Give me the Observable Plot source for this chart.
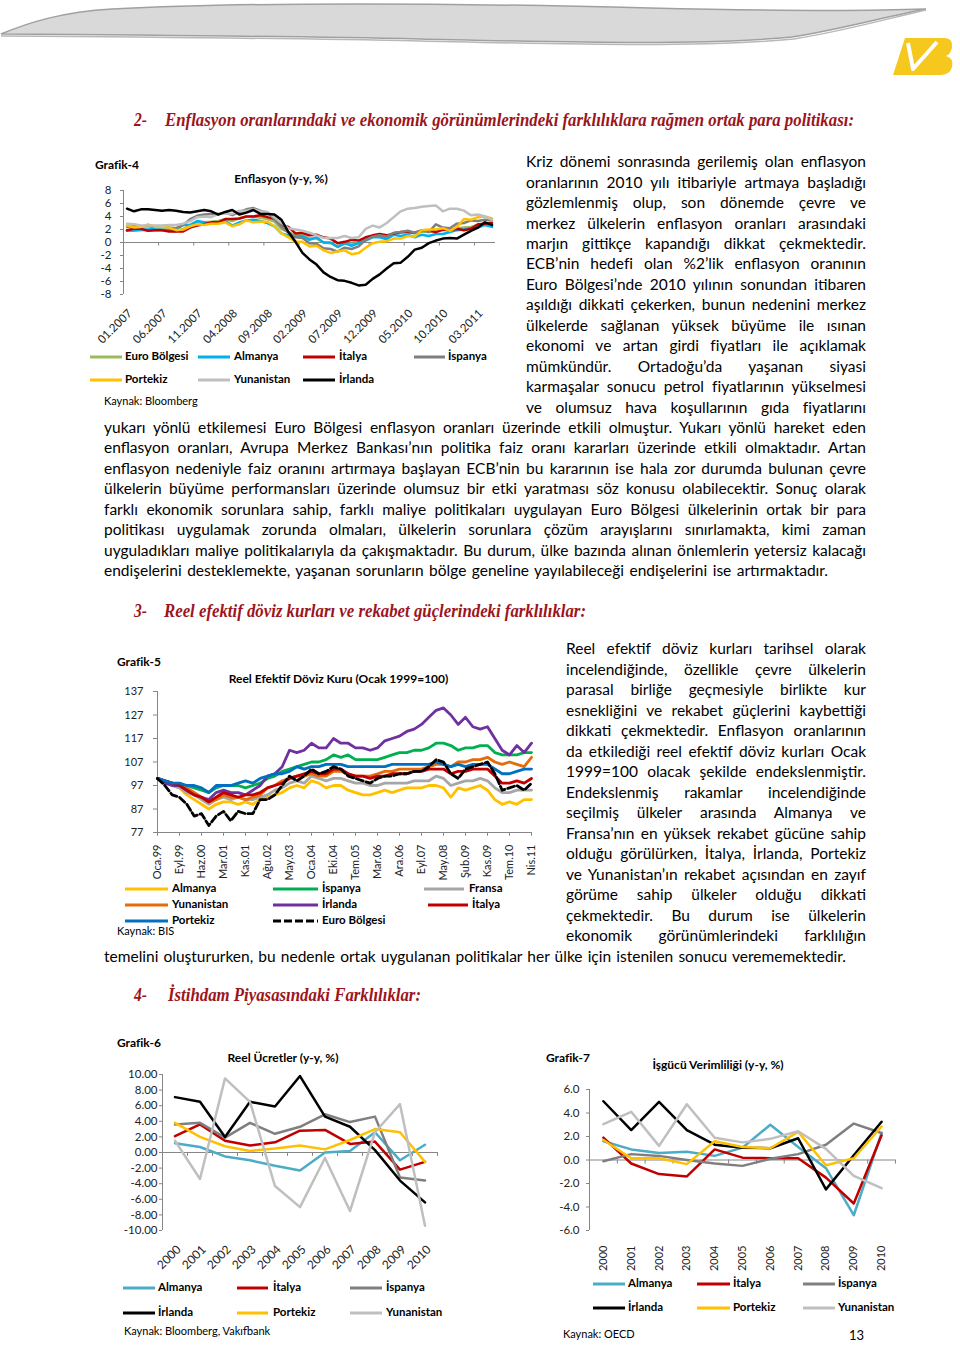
<!DOCTYPE html>
<html lang="tr">
<head>
<meta charset="utf-8">
<script src="https://cdn.jsdelivr.net/npm/d3@7"></script>
<script src="https://cdn.jsdelivr.net/npm/@observablehq/plot@0.6"></script>
<style>
html,body{margin:0;padding:0;background:#fff;}
#page{position:relative;width:960px;height:1347px;overflow:hidden;background:#fff;font-family:Lato,"Open Sans",sans-serif;color:#000;}
.t{position:absolute;white-space:nowrap;}
.chart{position:absolute;}
.chart svg{overflow:visible;}
</style>
</head>
<body>
<div id="page">
<svg width="960" height="90" style="position:absolute;left:0;top:0">
  <path d="M1,34 C30,22 62,12 112,9 C250,2 450,3 650,8 C780,11 870,11 926,9 C884,17 842,29 792,37 C700,46 560,42 420,39 C280,36 140,35 1,34 Z" fill="#d9d9d9" stroke="#a0a0a0" stroke-width="1.5"/>
  <path d="M1,36 C140,37 280,38 420,41 C560,44 700,48 794,39 C844,31 886,19 926,10" fill="none" stroke="#b8b8b8" stroke-width="1.5"/>
  <path d="M905,38 L944,38 Q953,38 952,47 Q951,54 946,56 Q954,58 952,67 Q950,75 940,75 L893,75 Z" fill="#f6c71d"/>
  <polyline points="908,43 913,69 937,42" fill="none" stroke="#fff" stroke-width="4" stroke-linejoin="round"/>
</svg>
</div>
<script>
// ---------------- DATA ----------------
// Grafik-4: Enflasyon (y-y, %), aylık 01.2007 - 05.2011
const g4_xlabels = ["01.2007","06.2007","11.2007","04.2008","09.2008","02.2009","07.2009","12.2009","05.2010","10.2010","03.2011"];
const g4_yticks = [-8,-6,-4,-2,0,2,4,6,8];
const g4_euro = [1.8,1.8,1.9,1.9,1.9,1.9,1.8,1.7,2.1,2.6,3.1,3.1, 3.2,3.3,3.6,3.3,3.7,4.0,4.0,3.8,3.6,3.2,2.1,1.6, 1.1,1.2,0.6,0.6,0.0,-0.1,-0.6,-0.2,-0.3,-0.1,0.5,0.9, 1.0,0.8,1.4,1.5,1.6,1.4,1.7,1.6,1.9,1.9,1.9,2.2, 2.3,2.4,2.7,2.8,2.7];
const g4_almanya = [1.8,1.9,2.0,2.0,2.1,2.0,2.0,2.0,2.7,2.7,3.3,3.1, 2.9,3.0,3.3,2.6,3.1,3.4,3.5,3.3,3.0,2.5,1.4,1.1, 0.9,1.0,0.4,0.8,0.0,0.0,-0.7,-0.1,-0.5,-0.1,0.3,0.8, 0.8,0.5,1.2,1.0,1.2,0.8,1.2,1.0,1.3,1.3,1.6,1.9, 2.0,2.2,2.3,2.7,2.4];
const g4_italya = [1.9,2.1,2.1,1.8,1.9,1.9,1.7,1.7,1.7,2.3,2.6,2.8, 3.1,3.1,3.6,3.6,3.7,4.0,4.0,4.2,3.9,3.6,2.7,2.4, 1.4,1.5,1.1,1.2,0.8,0.6,-0.1,0.1,0.4,0.3,0.8,1.1, 1.3,1.1,1.4,1.6,1.6,1.5,1.8,1.8,1.6,2.0,1.9,2.1, 1.9,2.1,2.8,2.9,3.0];
const g4_ispanya = [2.4,2.5,2.5,2.5,2.4,2.5,2.3,2.2,2.7,3.6,4.1,4.3, 4.4,4.4,4.6,4.2,4.7,5.1,5.3,4.9,4.6,3.6,2.4,1.5, 0.8,0.7,-0.1,-0.2,-0.9,-1.0,-1.4,-0.8,-1.0,-0.6,0.4,0.9, 1.1,0.9,1.5,1.6,1.8,1.5,1.9,1.6,2.8,2.3,2.2,2.9, 3.0,3.4,3.3,3.5,3.4];
const g4_portekiz = [2.6,2.3,2.4,2.8,2.4,2.4,2.3,1.9,2.0,2.5,2.8,2.7, 2.9,2.9,3.1,2.5,2.8,3.4,3.1,3.2,3.2,2.5,1.4,0.8, 0.1,0.1,-0.6,-0.5,-1.2,-1.6,-1.4,-1.2,-1.8,-1.6,-0.8,-0.1, 0.1,0.2,0.6,0.6,1.0,0.9,1.9,2.0,2.0,2.2,1.8,2.4, 3.6,3.5,3.9,4.0,3.7];
const g4_yunanistan = [2.9,2.8,2.6,2.6,2.6,2.6,2.7,2.7,2.9,3.3,3.9,4.0, 3.9,4.4,4.5,4.4,4.9,4.9,5.1,4.8,4.7,3.9,3.0,2.2, 2.0,1.8,1.5,1.1,0.7,0.7,0.7,1.0,0.7,0.8,2.1,2.6, 2.3,3.0,3.9,4.8,5.2,5.3,5.5,5.6,5.7,4.8,5.2,5.2, 4.9,4.2,4.3,4.0,3.5];
const g4_irlanda = [5.2,4.8,5.1,5.1,5.0,4.9,5.0,4.9,4.7,4.6,4.8,5.0, 4.8,4.3,4.7,5.0,4.3,4.6,5.0,4.4,4.4,4.3,3.5,1.6, 0.1,-1.6,-2.6,-3.4,-4.6,-5.3,-5.8,-5.9,-6.2,-6.6,-6.5,-5.6, -4.9,-4.0,-3.2,-3.1,-2.2,-1.1,-0.8,-0.1,0.3,0.6,0.7,0.6, 1.2,1.8,2.3,3.1,2.7];

// Grafik-5: Reel Efektif Döviz Kuru (Ocak 1999=100), Oca.99 - Nis.11 (3 nokta / etiket aralığı)
const g5_xlabels = ["Oca.99","Eyl.99","Haz.00","Mar.01","Kas.01","Ağu.02","May.03","Oca.04","Eki.04","Tem.05","Mar.06","Ara.06","Eyl.07","May.08","Şub.09","Kas.09","Tem.10","Nis.11"];
const g5_yticks = [77,87,97,107,117,127,137];
const g5_almanya = [100,99,97,96,93,91,89,87,89,90,90,89,90,89,91,92,93,94,96,97,96,99,98,96,97,97,95,94,93,93,94,95,94,95,96,96,96,97,97,96,92,96,95,96,97,95,91,89,90,89,91,91];
const g5_ispanya = [100,99,98,97,97,96,95,94,96,97,97,97,96,97,98,100,101,103,104,105,106,107,107,108,110,109,110,108,108,108,108,109,110,111,111,112,112,113,115,115,114,112,113,113,114,114,111,110,110,110,111,111];
const g5_fransa = [100,99,97,96,94,93,91,89,91,92,91,92,91,91,92,93,95,96,98,99,98,101,100,99,100,100,99,98,98,97,97,98,98,98,98,99,99,99,101,100,97,98,99,99,100,99,96,94,94,95,95,95];
const g5_yunanistan = [100,99,98,97,96,94,92,90,91,93,92,92,91,92,93,96,97,99,100,101,101,102,101,101,103,103,102,101,101,101,102,103,103,104,104,104,104,105,106,106,105,107,107,108,108,109,107,106,107,106,105,109];
const g5_irlanda = [100,98,97,97,95,93,92,91,94,95,94,94,93,95,97,101,102,105,112,111,112,115,113,113,117,115,115,113,113,112,113,116,117,118,120,121,123,126,129,130,127,123,126,122,121,122,117,112,110,114,111,115];
const g5_italya = [100,99,98,97,95,93,92,90,92,94,93,92,93,93,94,96,97,98,100,101,102,103,102,102,104,104,102,101,101,100,101,101,102,102,102,103,103,104,104,104,102,103,103,104,104,104,101,98,98,99,98,100];
const g5_portekiz = [100,99,98,98,97,97,96,94,97,97,97,98,99,98,100,101,102,102,103,105,104,105,105,106,106,106,105,105,105,105,105,105,106,106,106,106,106,106,107,106,105,106,105,106,106,106,104,102,102,103,104,104];
const g5_euro = [100,97,93,92,89,84,85,80,84,86,82,86,85,85,91,91,93,97,101,99,101,104,102,103,105,104,101,100,99,98,100,101,101,102,102,103,103,105,108,107,102,100,104,105,106,107,102,95,96,97,95,98];

// Grafik-6: Reel Ücretler (y-y, %), 2000-2010
const g6_years = [2000,2001,2002,2003,2004,2005,2006,2007,2008,2009,2010];
const g6_yticks = [-10,-8,-6,-4,-2,0,2,4,6,8,10];
const g6_almanya = [1.2,0.7,-0.5,-1.0,-1.7,-2.3,0.0,0.2,2.6,-1.0,1.0];
const g6_italya = [2.1,3.6,1.5,0.9,1.3,2.8,2.9,1.1,1.4,-2.2,-1.2];
const g6_ispanya = [3.6,3.8,1.9,3.8,2.4,3.3,4.9,3.9,4.6,-3.2,-3.6];
const g6_irlanda = [7.1,6.5,2.0,6.5,5.9,9.8,4.6,3.3,0.3,-3.6,-6.4];
const g6_portekiz = [3.8,2.0,0.8,0.2,0.5,0.9,0.4,1.6,3.0,2.6,-1.2];
const g6_yunanistan = [1.5,-3.4,9.5,6.5,-4.3,-7.0,-0.7,-7.5,2.6,6.2,-9.4];

// Grafik-7: İşgücü Verimliliği (y-y, %), 2000-2010
const g7_years = [2000,2001,2002,2003,2004,2005,2006,2007,2008,2009,2010];
const g7_yticks = [-6,-4,-2,0,2,4,6];
const g7_almanya = [1.6,0.9,0.6,0.7,0.35,1.05,3.0,1.1,-0.7,-4.7,2.3];
const g7_italya = [1.9,-0.3,-1.2,-1.4,0.9,0.2,0.15,0.15,-1.5,-3.7,2.1];
const g7_ispanya = [-0.1,0.5,0.35,0.0,-0.3,-0.5,0.1,0.5,1.3,3.1,2.3];
const g7_irlanda = [5.0,2.55,4.95,2.55,1.3,1.05,1.0,1.85,-2.5,0.4,3.25];
const g7_portekiz = [1.7,0.15,0.15,-0.35,1.6,1.1,1.0,2.4,-0.45,0.15,2.85];
const g7_yunanistan = [3.05,4.1,1.2,4.75,1.9,1.5,1.8,2.45,0.95,-1.35,-2.4];

// ---------------- TEXT ----------------
const para1Right = [
"Kriz dönemi sonrasında gerilemiş olan enflasyon",
"oranlarının 2010 yılı itibariyle artmaya başladığı",
"gözlemlenmiş olup, son dönemde çevre ve",
"merkez ülkelerin enflasyon oranları arasındaki",
"marjın gittikçe kapandığı dikkat çekmektedir.",
"ECB’nin hedefi olan %2’lik enflasyon oranının",
"Euro Bölgesi’nde 2010 yılının sonundan itibaren",
"aşıldığı dikkati çekerken, bunun nedenini merkez",
"ülkelerde sağlanan yüksek büyüme ile ısınan",
"ekonomi ve artan girdi fiyatları ile açıklamak",
"mümkündür. Ortadoğu’da yaşanan siyasi",
"karmaşalar sonucu petrol fiyatlarının yükselmesi",
"ve olumsuz hava koşullarının gıda fiyatlarını"];
const para1Full = [
"yukarı yönlü etkilemesi Euro Bölgesi enflasyon oranları üzerinde etkili olmuştur. Yukarı yönlü hareket eden",
"enflasyon oranları, Avrupa Merkez Bankası’nın politika faiz oranı kararları üzerinde etkili olmaktadır. Artan",
"enflasyon nedeniyle faiz oranını artırmaya başlayan ECB’nin bu kararının ise hala zor durumda bulunan çevre",
"ülkelerin büyüme performansları üzerinde olumsuz bir etki yaratması söz konusu olabilecektir. Sonuç olarak",
"farklı ekonomik sorunlara sahip, farklı maliye politikaları uygulayan Euro Bölgesi ülkelerinin ortak bir para",
"politikası uygulamak zorunda olmaları, ülkelerin sorunlara çözüm arayışlarını sınırlamakta, kimi zaman",
"uyguladıkları maliye politikalarıyla da çakışmaktadır. Bu durum, ülke bazında alınan önlemlerin yetersiz kalacağı",
"endişelerini desteklemekte, yaşanan sorunların bölge geneline yayılabileceği endişelerini ise artırmaktadır."];
const para2Right = [
"Reel efektif döviz kurları tarihsel olarak",
"incelendiğinde, özellikle çevre ülkelerin",
"parasal birliğe geçmesiyle birlikte kur",
"esnekliğini ve rekabet güçlerini kaybettiği",
"dikkati çekmektedir. Enflasyon oranlarının",
"da etkilediği reel efektif döviz kurları Ocak",
"1999=100 olacak şekilde endekslenmiştir.",
"Endekslenmiş rakamlar incelendiğinde",
"seçilmiş ülkeler arasında Almanya ve",
"Fransa’nın en yüksek rekabet gücüne sahip",
"olduğu görülürken, İtalya, İrlanda, Portekiz",
"ve Yunanistan’ın rekabet açısından en zayıf",
"görüme sahip ülkeler olduğu dikkati",
"çekmektedir. Bu durum ise ülkelerin",
"ekonomik görünümlerindeki farklılığın"];
const para2Last = "temelini oluştururken, bu nedenle ortak uygulanan politikalar her ülke için istenilen sonucu verememektedir.";

const page = document.getElementById("page");
function addText(str, x, y, o = {}) {
  const fs = o.size || 15.5, lh = o.lh || Math.round(fs * 1.35);
  const el = document.createElement("span");
  el.className = "t";
  el.textContent = str;
  el.style.fontSize = fs + "px";
  el.style.lineHeight = lh + "px";
  if (o.weight) el.style.fontWeight = o.weight;
  if (o.family) el.style.fontFamily = o.family;
  if (o.italic) el.style.fontStyle = "italic";
  if (o.color) el.style.color = o.color;
  const off = o.serif ? lh / 2 : lh / 2 + 0.087 * fs;
  el.style.top = (y - off) + "px";
  el.style.left = x + "px";
  page.appendChild(el);
  if (o.anchor === "middle") {
    const w = el.getBoundingClientRect().width;
    el.style.left = (x - w / 2) + "px";
  }
  return el;
}
function fit(el, target) {
  const w = el.getBoundingClientRect().width;
  const txt = el.textContent;
  const n = (txt.match(/ /g) || []).length;
  if (w <= target && n > 0) el.style.wordSpacing = ((target - w) / n) + "px";
  else if (w > target) el.style.letterSpacing = ((target - w) / txt.length) + "px";
}
function scaleTo(el, target) {
  const w = el.getBoundingClientRect().width;
  el.style.transformOrigin = "0 50%";
  el.style.transform = `scaleX(${target / w})`;
}

// body text
const LS = 20.45;
para1Right.forEach((s, i) => fit(addText(s, 526, 163 + i * LS), 340));
para1Full.forEach((s, i) => {
  const last = i === para1Full.length - 1;
  fit(addText(s, 104, 163 + (13 + i) * LS), last ? 724 : 762);
});
para2Right.forEach((s, i) => fit(addText(s, 566, 650 + i * 20.5), 300));
fit(addText(para2Last, 104, 650 + 15 * 20.5), 742);

// headings
const HC = "#9b1520";
function heading(num, text, y, x2, target) {
  const hopt = {size: 18, lh: 24, family: '"Liberation Serif","Times New Roman",serif', weight: 700, italic: true, color: HC, serif: true};
  scaleTo(addText(num, 134, y, hopt), 13);
  scaleTo(addText(text, x2, y, hopt), target);
}
heading("2-", "Enflasyon oranlarındaki ve ekonomik görünümlerindeki farklılıklara rağmen ortak para politikası:", 120, 165, 689);
heading("3-", "Reel efektif döviz kurları ve rekabet güçlerindeki farklılıklar:", 611, 164, 422);
heading("4-", "İstihdam Piyasasındaki Farklılıklar:", 995, 168, 253);

// chart labels
const B = {size: 12, weight: 700, lh: 16};
addText("Grafik-4", 95, 166, B);
addText("Enflasyon (y-y, %)", 281, 180, {...B, anchor: "middle"});
addText("Kaynak: Bloomberg", 104, 402, {size: 11, lh: 14});
addText("Grafik-5", 117, 663, B);
addText("Reel Efektif Döviz Kuru (Ocak 1999=100)", 338.5, 680, {...B, anchor: "middle"});
addText("Kaynak: BIS", 117, 932, {size: 11, lh: 14});
addText("Grafik-6", 117, 1044, B);
addText("Reel Ücretler (y-y, %)", 283, 1059, {...B, anchor: "middle"});
addText("Kaynak: Bloomberg, Vakıfbank", 124, 1332, {size: 11, lh: 14});
addText("Grafik-7", 546, 1059, B);
addText("İşgücü Verimliliği (y-y, %)", 718, 1066, {...B, anchor: "middle"});
addText("Kaynak: OECD", 563, 1335, {size: 11, lh: 14});
addText("13", 849, 1337, {size: 13, lh: 15});

// legends
function legendItem(label, color, x1, x2, tx, y, dash) {
  const ns = "http://www.w3.org/2000/svg";
  const s = document.createElementNS(ns, "svg");
  s.setAttribute("width", x2 - x1); s.setAttribute("height", 6);
  s.style.cssText = `position:absolute;left:${x1}px;top:${y - 3}px;`;
  const l = document.createElementNS(ns, "line");
  l.setAttribute("x1", 0); l.setAttribute("x2", x2 - x1); l.setAttribute("y1", 3); l.setAttribute("y2", 3);
  l.setAttribute("stroke", color); l.setAttribute("stroke-width", 3);
  if (dash) l.setAttribute("stroke-dasharray", "8,3");
  s.appendChild(l); page.appendChild(s);
  addText(label, tx, y, {size: 11.5, weight: 700, lh: 14});
}

// colours
const C = {euro4: "#9bbb59", alm4: "#00b0f0", ita: "#c00000", isp: "#7f7f7f", por: "#ffc000", yun: "#bfbfbf", irl: "#000000",
  alm5: "#ffc000", isp5: "#00b050", fra5: "#a6a6a6", yun5: "#e46c0a", irl5: "#7030a0", ita5: "#c00000", por5: "#0070c0", euro5: "#000000",
  alm6: "#4bacc6"};

legendItem("Euro Bölgesi", C.euro4, 90, 122, 125, 357);
legendItem("Almanya", C.alm4, 198, 230, 234, 357);
legendItem("İtalya", C.ita, 303, 335, 339, 357);
legendItem("İspanya", C.isp, 414, 445, 448, 357);
legendItem("Portekiz", C.por, 90, 122, 125, 380);
legendItem("Yunanistan", C.yun, 198, 230, 234, 380);
legendItem("İrlanda", C.irl, 303, 335, 339, 380);

legendItem("Almanya", C.alm5, 125, 168, 172, 889);
legendItem("İspanya", C.isp5, 273, 318, 322, 889);
legendItem("Fransa", C.fra5, 424, 464, 469, 889);
legendItem("Yunanistan", C.yun5, 125, 168, 172, 905);
legendItem("İrlanda", C.irl5, 273, 318, 322, 905);
legendItem("İtalya", C.ita5, 428, 468, 472, 905);
legendItem("Portekiz", C.por5, 125, 168, 172, 921);
legendItem("Euro Bölgesi", C.euro5, 273, 318, 322, 921, true);

[["Almanya", C.alm6, 123, 155, 158], ["İtalya", C.ita, 237, 268, 273], ["İspanya", C.isp, 350, 382, 386]].forEach(d => legendItem(d[0], d[1], d[2], d[3], d[4], 1288));
[["İrlanda", C.irl, 123, 155, 158], ["Portekiz", C.por, 237, 268, 273], ["Yunanistan", C.yun, 350, 382, 386]].forEach(d => legendItem(d[0], d[1], d[2], d[3], d[4], 1313));
[["Almanya", C.alm6, 593, 625, 628], ["İtalya", C.ita, 697, 730, 733], ["İspanya", C.isp, 803, 835, 838]].forEach(d => legendItem(d[0], d[1], d[2], d[3], d[4], 1284));
[["İrlanda", C.irl, 593, 625, 628], ["Portekiz", C.por, 697, 730, 733], ["Yunanistan", C.yun, 803, 835, 838]].forEach(d => legendItem(d[0], d[1], d[2], d[3], d[4], 1308));

// ---------------- CHARTS ----------------
function mount(svg, left, top) {
  const d = document.createElement("div");
  d.className = "chart"; d.style.left = left + "px"; d.style.top = top + "px";
  d.appendChild(svg); page.appendChild(d);
}
const ST = {fontFamily: "Lato, sans-serif", fontSize: "11px", color: "#1a1a1a", background: "transparent", overflow: "visible"};
const AX = "#868686";
const LW = 2.5;

// Grafik-4
const g4Series = [[g4_euro, C.euro4],[g4_almanya, C.alm4],[g4_italya, C.ita],[g4_ispanya, C.isp],[g4_portekiz, C.por],[g4_yunanistan, C.yun],[g4_irlanda, C.irl]];
mount(Plot.plot({
  width: 424, height: 174, marginLeft: 42, marginRight: 10, marginTop: 20, marginBottom: 50,
  x: {domain: [-0.5, 52.5], axis: null},
  y: {domain: [-8, 8]},
  style: ST,
  marks: [
    Plot.axisY({ticks: g4_yticks, tickSize: 3, tickPadding: 9, tickFormat: d => String(d), stroke: AX, fill: "#222", fontSize: 11.5, label: null}),
    Plot.ruleX([-0.5], {stroke: AX}),
    Plot.ruleY([0], {stroke: AX}),
    Plot.ruleX(g4_xlabels.map((d, k) => k * 5 - 0.5), {y1: 0, y2: -0.55, stroke: AX}),
    ...g4Series.map(([v, c]) => Plot.lineY(v, {stroke: c, strokeWidth: LW})),
    Plot.text(g4_xlabels, {x: (d, k) => k * 5, y: -8, text: d => d, rotate: -45, textAnchor: "end", dx: 3, dy: 17, fontSize: 11.5, fill: "#222"})
  ]
}), 81, 170);

// Grafik-5
const g5Series = [[g5_almanya, C.alm5],[g5_ispanya, C.isp5],[g5_fransa, C.fra5],[g5_yunanistan, C.yun5],[g5_irlanda, C.irl5],[g5_italya, C.ita5],[g5_portekiz, C.por5]];
mount(Plot.plot({
  width: 431, height: 207, marginLeft: 47, marginRight: 10, marginTop: 16, marginBottom: 50,
  x: {domain: [0, 51], axis: null},
  y: {domain: [77, 137]},
  style: ST,
  marks: [
    Plot.axisY({ticks: g5_yticks, tickSize: 4, tickPadding: 10, tickFormat: d => String(d), stroke: AX, fill: "#222", fontSize: 11, label: null}),
    Plot.ruleX([0], {stroke: AX}),
    Plot.ruleY([77], {stroke: AX}),
    Plot.ruleX(g5_xlabels.map((d, k) => k * 3), {y1: 77, y2: 75.4, stroke: AX}),
    ...g5Series.map(([v, c]) => Plot.lineY(v, {stroke: c, strokeWidth: 2.8})),
    Plot.lineY(g5_euro, {stroke: C.euro5, strokeWidth: 2.8, strokeDasharray: "7,3"}),
    Plot.text(g5_xlabels, {x: (d, k) => k * 3, y: 77, text: d => d, rotate: -90, textAnchor: "end", dy: 12, fontSize: 11, fill: "#222"})
  ]
}), 110, 675);

// Grafik-6
const g6Series = [[g6_almanya, C.alm6],[g6_italya, C.ita],[g6_ispanya, C.isp],[g6_irlanda, C.irl],[g6_portekiz, C.por],[g6_yunanistan, C.yun]];
mount(Plot.plot({
  width: 337, height: 211, marginLeft: 52, marginRight: 10, marginTop: 10, marginBottom: 45,
  x: {domain: [1999.5, 2010.5], axis: null},
  y: {domain: [-10, 10]},
  style: ST,
  marks: [
    Plot.axisY({ticks: g6_yticks, tickSize: 3, tickPadding: 2, tickFormat: d => d.toFixed(2), stroke: AX, fill: "#222", fontSize: 11.5, label: null}),
    Plot.ruleX([1999.5], {stroke: AX}),
    Plot.ruleY([0], {x1: 1999.5, x2: 2010.5, stroke: AX}),
    Plot.ruleX(g6_years.map(y => y - 0.5).concat([2010.5]), {y1: 0, y2: -0.5, stroke: AX}),
    ...g6Series.map(([v, c]) => Plot.lineY(v, {x: g6_years, stroke: c, strokeWidth: LW})),
    Plot.text(g6_years, {x: d => d, y: -10, text: d => String(d), rotate: -45, textAnchor: "end", dx: 4, dy: 17, fontSize: 12, fill: "#222"})
  ]
}), 110, 1064);

// Grafik-7
const g7Series = [[g7_almanya, C.alm6],[g7_italya, C.ita],[g7_ispanya, C.isp],[g7_irlanda, C.irl],[g7_portekiz, C.por],[g7_yunanistan, C.yun]];
mount(Plot.plot({
  width: 365, height: 196, marginLeft: 49, marginRight: 10, marginTop: 10, marginBottom: 45,
  x: {domain: [1999.5, 2010.5], axis: null},
  y: {domain: [-6, 6]},
  style: ST,
  marks: [
    Plot.axisY({ticks: g7_yticks, tickSize: 3, tickPadding: 7, tickFormat: d => d.toFixed(1), stroke: AX, fill: "#222", fontSize: 11.5, label: null}),
    Plot.ruleX([1999.5], {stroke: AX}),
    Plot.ruleY([0], {x1: 1999.5, x2: 2010.5, stroke: AX}),
    Plot.ruleX(g7_years.map(y => y - 0.5).concat([2010.5]), {y1: 0, y2: -0.35, stroke: AX}),
    ...g7Series.map(([v, c]) => Plot.lineY(v, {x: g7_years, stroke: c, strokeWidth: LW})),
    Plot.text(g7_years, {x: d => d, y: -6, text: d => String(d), rotate: -90, textAnchor: "end", dy: 15, fontSize: 11, fill: "#222"})
  ]
}), 540, 1079);
</script>
</body>
</html>
